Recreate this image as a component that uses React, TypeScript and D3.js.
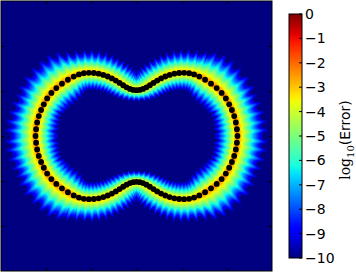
import React, { useEffect, useRef } from "react";
import * as d3 from "d3";

// first quadrant of the node curve (data units),
// from the right-hand tip up to the top pinch
const quadX = [
  2.236, 2.223, 2.2, 2.163, 2.112, 2.052, 1.978, 1.885, 1.775, 1.65, 1.518,
  1.39, 1.275, 1.165, 1.055, 0.945, 0.838, 0.735, 0.637, 0.545, 0.458, 0.375,
  0.296, 0.22, 0.145, 0.072, 0,
];
const quadY = [
  0, 0.15, 0.3, 0.443, 0.578, 0.705, 0.835, 0.958, 1.066, 1.163, 1.25, 1.32,
  1.368, 1.395, 1.404, 1.4, 1.385, 1.358, 1.322, 1.28, 1.232, 1.18, 1.128,
  1.082, 1.047, 1.025, 1.018,
];

const axisDomain = [-3, 3];
const axisTicks = [-2, -1, 0, 1, 2];
const colorDomain = [-10, 0];
const colorTicks = [0, -1, -2, -3, -4, -5, -6, -7, -8, -9, -10];

// error model near the curve: log10 error on the curve, decay per node spacing
// (outside / inside) and depth of the ray streaks between nodes
const errorPeak = -2.2;
const decayOutside = 1.85;
const decayInside = 2.5;
const stripeDepth = 0.1;

// matplotlib "jet"
const jetR = d3.scaleLinear().domain([0, 0.35, 0.66, 0.89, 1]).range([0, 0, 1, 1, 0.5]).clamp(true);
const jetG = d3.scaleLinear().domain([0, 0.125, 0.375, 0.64, 0.91, 1]).range([0, 0, 1, 1, 0, 0]).clamp(true);
const jetB = d3.scaleLinear().domain([0, 0.11, 0.34, 0.65, 1]).range([0.5, 1, 1, 0, 0]).clamp(true);
const jet = (t) => [jetR(t) * 255, jetG(t) * 255, jetB(t) * 255];

const App = () => {
  const ref = useRef(null);

  useEffect(() => {
    const root = d3.select(ref.current);
    root.selectAll("*").remove();

    const margin = { left: 1, top: 1 };
    const pw = 271;
    const ph = 270;

    const x = d3.scaleLinear().domain(axisDomain).range([0, pw]);
    const y = d3.scaleLinear().domain(axisDomain).range([ph, 0]);
    const cval = d3.scaleLinear().domain(colorDomain).range([0, 1]).clamp(true);

    // whole closed curve from the quadrant by symmetry
    const q = quadX.map((v, i) => [v, quadY[i]]);
    const last = q.length - 1;
    const curve = [
      ...q.slice(0, last),
      ...q.slice(1).reverse().map(([a, b]) => [-a, b]),
      ...q.slice(0, last).map(([a, b]) => [-a, -b]),
      ...q.slice(1).reverse().map(([a, b]) => [a, -b]),
    ];

    const pts = curve.map(([a, b]) => [x(a), y(b)]);
    const n = pts.length;
    const h0 = 6.8;

    // error field rendered to a bitmap
    const canvas = document.createElement("canvas");
    canvas.width = pw;
    canvas.height = ph;
    const ctx = canvas.getContext("2d");
    const img = ctx.createImageData(pw, ph);
    for (let j = 0; j < ph; j++) {
      for (let i = 0; i < pw; i++) {
        const px = i + 0.5;
        const py = j + 0.5;
        let best = Infinity;
        let bu = 0;
        let bh = 1;
        for (let k = 0; k < n; k++) {
          const [ax, ay] = pts[k];
          const [bx, by] = pts[(k + 1) % n];
          const dx = bx - ax;
          const dy = by - ay;
          const L2 = dx * dx + dy * dy;
          let u = ((px - ax) * dx + (py - ay) * dy) / L2;
          u = u < 0 ? 0 : u > 1 ? 1 : u;
          const ex = ax + u * dx - px;
          const ey = ay + u * dy - py;
          const d2 = ex * ex + ey * ey;
          if (d2 < best) {
            best = d2;
            bu = u;
            bh = Math.sqrt(L2);
          }
        }
        const d = Math.sqrt(best);
        const inside = d3.polygonContains(pts, [px, py]);
        const rate = (inside ? decayInside : decayOutside) / (h0 * Math.pow(bh / h0, 0.85));
        const v = Math.max(
          colorDomain[0],
          errorPeak - rate * d * (1 + stripeDepth * Math.cos(2 * Math.PI * bu))
        );
        const [r, g, b] = jet(cval(v));
        const o = (j * pw + i) * 4;
        img.data[o] = r;
        img.data[o + 1] = g;
        img.data[o + 2] = b;
        img.data[o + 3] = 255;
      }
    }
    ctx.putImageData(img, 0, 0);

    const g = root.append("g").attr("transform", `translate(${margin.left},${margin.top})`);

    g.append("image")
      .attr("width", pw)
      .attr("height", ph)
      .attr("preserveAspectRatio", "none")
      .attr("href", canvas.toDataURL());

    g.append("g")
      .selectAll("circle")
      .data(curve)
      .join("circle")
      .attr("cx", (d) => x(d[0]))
      .attr("cy", (d) => y(d[1]))
      .attr("r", 2.9)
      .style("fill", "black");

    // frame and inward ticks
    g.append("rect")
      .attr("width", pw)
      .attr("height", ph)
      .style("fill", "none")
      .style("stroke", "black")
      .style("stroke-width", 1);

    const tk = g.append("g").style("stroke", "black").style("stroke-width", 1);
    axisTicks.forEach((t) => {
      const xp = Math.round(x(t)) + 0.5;
      const yp = Math.round(y(t)) + 0.5;
      tk.append("line").attr("x1", xp).attr("x2", xp).attr("y1", 0).attr("y2", 3);
      tk.append("line").attr("x1", xp).attr("x2", xp).attr("y1", ph).attr("y2", ph - 3);
      tk.append("line").attr("y1", yp).attr("y2", yp).attr("x1", 0).attr("x2", 3);
      tk.append("line").attr("y1", yp).attr("y2", yp).attr("x1", pw).attr("x2", pw - 3);
    });

    // colorbar
    const cb = { x: 289, top: 14, bottom: 258, w: 13 };
    const cy = d3.scaleLinear().domain(colorDomain).range([cb.bottom, cb.top]);

    const grad = root
      .append("defs")
      .append("linearGradient")
      .attr("id", "jetgrad")
      .attr("x1", 0)
      .attr("x2", 0)
      .attr("y1", 1)
      .attr("y2", 0);
    d3.range(0, 1.0001, 0.02).forEach((t) => {
      const [r, gg, b] = jet(t);
      grad
        .append("stop")
        .attr("offset", t)
        .attr("stop-color", d3.rgb(r, gg, b).formatHex());
    });

    root
      .append("rect")
      .attr("x", cb.x)
      .attr("y", cb.top)
      .attr("width", cb.w)
      .attr("height", cb.bottom - cb.top)
      .style("fill", "url(#jetgrad)")
      .style("stroke", "black")
      .style("stroke-width", 1);

    const cbt = root.append("g");
    colorTicks.forEach((t) => {
      const yp = cy(t);
      cbt
        .append("line")
        .attr("x1", cb.x + cb.w)
        .attr("x2", cb.x + cb.w - 3)
        .attr("y1", yp)
        .attr("y2", yp)
        .style("stroke", "black");
      cbt
        .append("text")
        .attr("x", cb.x + cb.w + 3)
        .attr("y", yp)
        .attr("dy", "0.36em")
        .style("font-family", "DejaVu Sans")
        .style("font-size", "14px")
        .text(String(t).replace("-", "\u2212"));
    });

    const label = root
      .append("text")
      .attr("transform", "translate(350,140) rotate(-90)")
      .attr("text-anchor", "middle")
      .style("font-family", "DejaVu Sans")
      .style("font-size", "14px");
    label.append("tspan").style("font-family", "DejaVu Serif").text("log");
    label.append("tspan").attr("dy", 4).style("font-family", "DejaVu Serif").style("font-size", "10px").text("10");
    label.append("tspan").attr("dy", -4).text("(Error)");
  }, []);

  return (
    <svg
      ref={ref}
      width={356}
      height={273}
      style={{ position: "fixed", left: 0, top: 0, background: "white" }}
    />
  );
};

export default App;
